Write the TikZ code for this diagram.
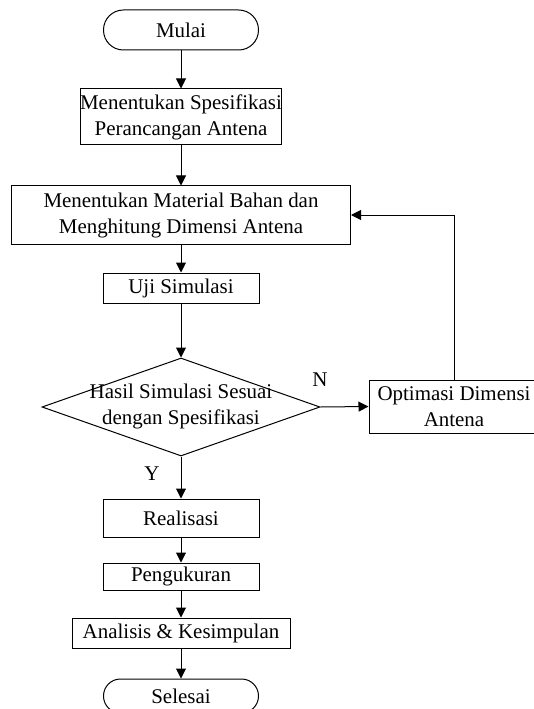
\documentclass[tikz,border=0pt]{standalone}
\usepackage{fontspec}
\setmainfont{Liberation Serif}
\usetikzlibrary{arrows.meta,shapes.geometric}
\begin{document}
\begin{tikzpicture}[x=0.75pt,y=-0.75pt,
  every node/.style={font=\fontsize{15.7}{19.5}\selectfont},
  procbox/.style={draw,line width=0.75pt,inner sep=0pt,align=center},
  termbox/.style={draw,line width=0.75pt,inner sep=0pt,rounded corners=14.9pt,minimum width=116.25pt,minimum height=30pt},
  arr/.style={line width=0.75pt,-{Triangle[length=7.5pt,width=7.5pt]}},
  plain/.style={line width=0.75pt}]
\useasboundingbox (0,0) rectangle (533,709);
\node[termbox] (mulai) at (181,30) {Mulai};
\node[procbox,minimum width=134.25pt,minimum height=42pt] (spec) at (181,117) {Menentukan Spesifikasi\\Perancangan Antena};
\node[procbox,minimum width=254.25pt,minimum height=43.5pt] (mat) at (181,215) {Menentukan Material Bahan dan\\Menghitung Dimensi Antena};
\node[procbox,minimum width=117pt,minimum height=22.5pt] (uji) at (181,288) {Uji Simulasi};
\node[diamond,draw,line width=0.75pt,inner sep=0pt,minimum width=208.5pt,minimum height=73.5pt] (dec) at (181,407) {};
\node[align=center,inner sep=0pt] (dectext) at (181,406) {Hasil Simulasi Sesuai\\dengan Spesifikasi};
\node[procbox,minimum width=127.5pt,minimum height=39.75pt] (opt) at (454,406.5) {Optimasi Dimensi\\Antena};
\node[procbox,minimum width=117pt,minimum height=28.5pt] (real) at (181,518) {Realisasi};
\node[procbox,minimum width=117pt,minimum height=20.25pt] (ukur) at (181,576.5) {Pengukuran};
\node[procbox,minimum width=163.5pt,minimum height=22.5pt] (anal) at (181,633) {Analisis \& Kesimpulan};
\node[termbox,minimum height=25.5pt,rounded corners=12.7pt] (selesai) at (181,696) {Selesai};
\node (nlab) at (320,380) {N};
\node (ylab) at (152,474) {Y};
\draw[arr] (mulai) -- (spec);
\draw[arr] (spec) -- (mat);
\draw[arr] (mat) -- (uji);
\draw[arr] (uji) -- (dec);
\draw[arr] (dec.east) -- (opt.west);
\draw[arr] (opt.north) |- (mat.east);
\draw[arr] (dec) -- (real);
\draw[arr] (real) -- (ukur);
\draw[arr] (ukur) -- (anal);
\draw[arr] (anal) -- (selesai);
\end{tikzpicture}
\end{document}
